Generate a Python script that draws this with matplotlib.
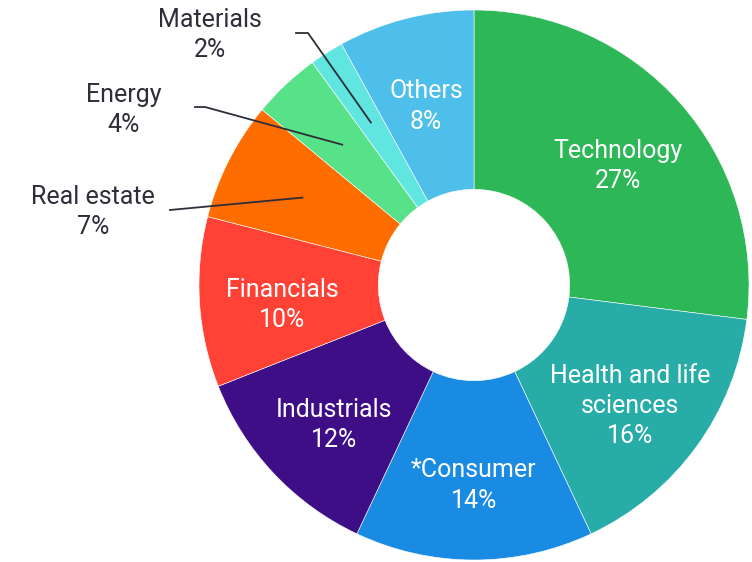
import numpy as np
import matplotlib
matplotlib.use("Agg")
import matplotlib.pyplot as plt

sectors = ["Technology", "Health and life\nsciences", "*Consumer", "Industrials",
           "Financials", "Real estate", "Energy", "Materials", "Others"]
shares = [27, 16, 14, 12, 10, 7, 4, 2, 8]
colors = ["#2db757", "#27aca8", "#1a8be3", "#3e0e87", "#ff4136",
          "#ff6d00", "#57e188", "#60e5e0", "#4ebeeb"]
outside = ["Real estate", "Energy", "Materials"]

# label anchors for the outside labels (pixels from top-left) and elbow of leader line
outside_text = {"Real estate": (93, 212), "Energy": (124, 110), "Materials": (210, 35)}
outside_line = {"Real estate": [(170, 210)], "Energy": [(195, 107), (205, 107)],
                "Materials": [(296, 33), (308, 33)]}

W, H = 752, 562
fig = plt.figure(figsize=(W / 100, H / 100), dpi=100)
ax = fig.add_axes([0, 0, 1, 1])

cx, cy, R = 474, H - 285, 275
wedges, _ = ax.pie(shares, colors=colors, startangle=90, counterclock=False,
                   center=(cx, cy), radius=R, frame=True,
                   wedgeprops=dict(width=R * 0.652, edgecolor="white", linewidth=0.4))
ax.set_xlim(0, W)
ax.set_ylim(0, H)
ax.set_aspect("equal")
ax.axis("off")

font = dict(family=["Roboto", "DejaVu Sans"], fontsize=18)
rl = 0.70 * R
for w, name, val in zip(wedges, sectors, shares):
    ang = np.deg2rad((w.theta1 + w.theta2) / 2)
    px, py = cx + rl * np.cos(ang), cy + rl * np.sin(ang)
    key = name.split("\n")[0]
    if key in outside:
        tx, ty = outside_text[key]
        ax.text(tx, H - ty, f"{name}\n{val}%", ha="center", va="center",
                color="#2e2e38", linespacing=1.33, **font)
        pts = [(x, H - y) for x, y in outside_line[key]] + [(px, py)]
        xs, ys = zip(*pts)
        ax.plot(xs, ys, color="#2e2e38", lw=1.3)
    else:
        ax.text(px, py - 8, f"{name}\n{val}%", ha="center", va="center",
                color="white", linespacing=1.33, **font)

fig.savefig("out.png", dpi=100)
